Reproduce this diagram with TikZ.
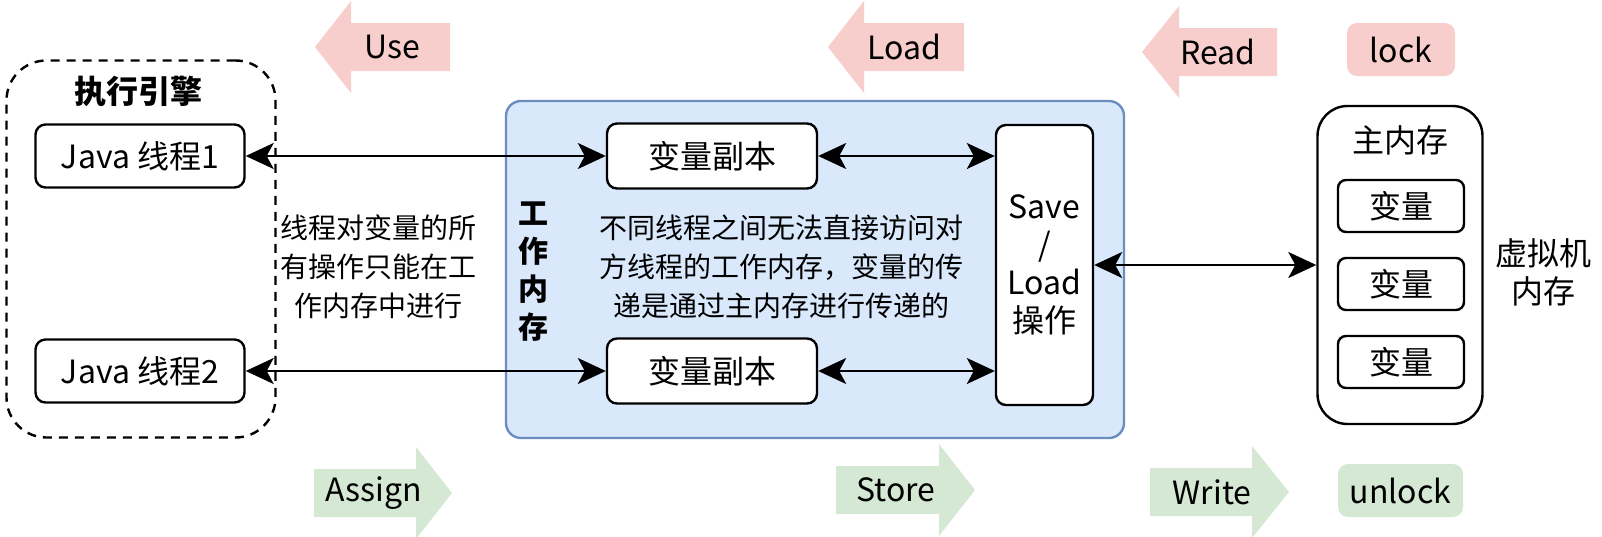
\documentclass[tikz,border=0pt]{standalone}
\usepackage{fontspec}
\setmainfont{Noto Sans CJK SC}
\usetikzlibrary{arrows.meta}

\definecolor{workfill}{HTML}{DAE8FC}
\definecolor{workdraw}{HTML}{6C8EBF}
\definecolor{readfill}{HTML}{F8CECC}
\definecolor{writefill}{HTML}{D5E8D4}

\tikzset{bb/.style={draw, line width=1.2pt, rounded corners=5pt, fill=white, inner sep=0pt, font=\fontsize{16}{19}\selectfont},
         note/.style={align=center, inner sep=0pt, font=\fontsize{14}{19.5}\selectfont},
         opname/.style={inner sep=0pt, font=\fontsize{16}{19}\selectfont},
         link/.style={line width=1.1pt, >={Stealth[length=14pt, width=13pt, inset=3.5pt]}, <->}}

\begin{document}
\begin{tikzpicture}[x=0.5pt, y=-0.5pt]
    \useasboundingbox (0,0) rectangle (1602,536);

    % execution engine
    \node[draw, dash pattern=on 4.5pt off 3.5pt, line width=1.2pt, rounded corners=20pt, minimum width=134.5pt, minimum height=188.5pt] (engine) at (141,249) {};
    \node[font=\bfseries\fontsize{16}{19}\selectfont] (enginetitle) at (139,91) {执行引擎};
    \node[bb, minimum width=104.5pt, minimum height=31.5pt] (thread1) at (140,156) {Java 线程1};
    \node[bb, minimum width=104.5pt, minimum height=31.5pt] (thread2) at (140,371) {Java 线程2};
    \node[note] (enginenote) at (378,267) {线程对变量的所\\有操作只能在工\\作内存中进行};

    % working memory
    \node[draw=workdraw, fill=workfill, line width=1.2pt, rounded corners=7.5pt, minimum width=309pt, minimum height=168.5pt] (workmem) at (815,269.5) {};
    \node[align=center, inner sep=0pt, font=\bfseries\fontsize{15}{19}\selectfont] (worklabel) at (533,272) {工\\作\\内\\存};
    \node[bb, minimum width=105pt, minimum height=32.5pt] (copy1) at (712,156) {变量副本};
    \node[bb, minimum width=105pt, minimum height=32.5pt] (copy2) at (712,371) {变量副本};
    \node[note] (worknote) at (781,267) {不同线程之间无法直接访问对\\方线程的工作内存，变量的传\\递是通过主内存进行传递的};
    \node[bb, align=center, minimum width=48.5pt, minimum height=140pt] (saveload) at (1044.5,265) {Save\\/\\Load\\操作};

    % main memory
    \node[draw, line width=1.2pt, rounded corners=15pt, minimum width=82.5pt, minimum height=159pt] (mainmem) at (1400,265) {};
    \node[opname] (maintitle) at (1400,140) {主内存};
    \foreach \i/\y in {1/206, 2/284, 3/362}
        \node[bb, rounded corners=4pt, minimum width=63pt, minimum height=26pt] (var\i) at (1401,\y) {变量};
    \node[opname, align=center] (vmlabel) at (1543,272) {虚拟机\\内存};

    \draw[link] (thread1.east) -- (copy1.west);
    \draw[link] (thread2.east) -- (copy2.west);
    \draw[link] (copy1.east) -- (copy1.east -| saveload.west);
    \draw[link] (copy2.east) -- (copy2.east -| saveload.west);
    \draw[link] (saveload.east) -- (saveload.east -| mainmem.west);

    % operations read side
    \foreach \name/\txt/\tip/\base/\tail/\y/\tx in {use/Use/315/351/450/47/392, load/Load/828/864/964/47/904, read/Read/1142/1179/1277/52/1218}{
        \fill[readfill] (\tip,\y) -- (\base,\y-46) -- (\base,\y-24) -- (\tail,\y-24) -- (\tail,\y+24) -- (\base,\y+24) -- (\base,\y+46) -- cycle;
        \node[opname] (\name) at (\tx,\y) {\txt};
    }
    \node[opname, fill=readfill, rounded corners=5pt, minimum width=54pt, minimum height=26.5pt] (lock) at (1401,49.5) {lock};

    % operations write side
    \foreach \name/\txt/\tail/\base/\tip/\y/\tx in {assign/Assign/314/416/452/493/374, store/Store/836/939/975/490/896, write/Write/1150/1252/1289/492/1212}{
        \fill[writefill] (\tip,\y) -- (\base,\y-46) -- (\base,\y-24) -- (\tail,\y-24) -- (\tail,\y+24) -- (\base,\y+24) -- (\base,\y+46) -- cycle;
        \node[opname] (\name) at (\tx,\y) {\txt};
    }
    \node[opname, fill=writefill, rounded corners=5pt, minimum width=62.5pt, minimum height=26.5pt] (unlock) at (1400.5,490.5) {unlock};

\end{tikzpicture}
\end{document}
